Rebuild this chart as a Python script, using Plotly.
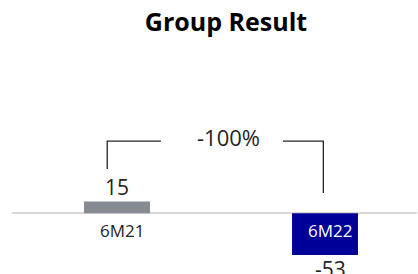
import plotly.graph_objects as go

# ---- data ----
categories = ["6M21", "6M22"]
values = [15, -53]
value_labels = ["15", "-53"]
change_label = "-100%"
title_text = "Group Result"

# ---- style ----
bar_colors = ["#868B91", "#000099"]
cat_label_colors = ["#252423", "#FFFFFF"]
FONT = "Segoe UI, Open Sans, sans-serif"
W, H = 418, 274
ML, MR = 12, 1
px_per_unit = 0.785
zero_px = 213.3  # from top

y_max = zero_px / px_per_unit
y_min = -(H - zero_px) / px_per_unit

x_idx = list(range(len(categories)))
x_px_per_unit = 208.0
first_center = 117.0
x_min = -(first_center - ML) / x_px_per_unit
x_max = (W - MR - first_center) / x_px_per_unit

fig = go.Figure()
fig.add_trace(go.Bar(
    x=x_idx, y=values, width=0.317,
    marker=dict(color=bar_colors, line=dict(width=0)),
    hoverinfo="skip",
))

annotations = []
for i, (c, v, lab) in enumerate(zip(categories, values, value_labels)):
    annotations.append(dict(
        x=i, y=0, xref="x", yref="y", text=c, showarrow=False,
        xshift=5, yshift=-17, yanchor="middle",
        font=dict(family=FONT, size=17, color=cat_label_colors[i]),
    ))
    if v >= 0:
        annotations.append(dict(
            x=i, y=v, text=lab, showarrow=False, yanchor="bottom", yshift=-1,
            font=dict(family=FONT, size=21, color="#252423"),
        ))
    else:
        annotations.append(dict(
            x=i, y=v, text=lab, showarrow=False, yanchor="top", yshift=2, xshift=5,
            font=dict(family=FONT, size=21, color="#252423"),
        ))

# bracket (derived from data)
top_y = 92
left_x = x_idx[0] - 0.047
right_x = x_idx[1] - 0.008
left_bot = max(values[0], 0) + 41.4
right_bot = max(values[1], 0) + 26
gap_l = left_x + (161 - 107.3) / x_px_per_unit
gap_r = right_x - (323.3 - 283) / x_px_per_unit
line = dict(color="#252423", width=1.3)
shapes = [
    dict(type="path", xref="x", yref="y",
         path=f"M {left_x},{left_bot} L {left_x},{top_y} L {gap_l},{top_y}", line=line),
    dict(type="path", xref="x", yref="y",
         path=f"M {gap_r},{top_y} L {right_x},{top_y} L {right_x},{right_bot}", line=line),
]
annotations.append(dict(
    x=(x_idx[0] + x_idx[1]) / 2 + 0.034, y=top_y, text=change_label, showarrow=False,
    yanchor="middle", yshift=4,
    font=dict(family=FONT, size=22, color="#252423"),
))

fig.update_layout(
    width=W, height=H,
    margin=dict(l=ML, r=MR, t=0, b=0),
    paper_bgcolor="white", plot_bgcolor="white",
    showlegend=False,
    title=dict(text="<b>" + title_text + "</b>", x=226 / W, xref="container", xanchor="center",
               y=1 - 22 / H, yref="container", yanchor="middle",
               font=dict(family=FONT, size=25, color="#000000")),
    xaxis=dict(range=[x_min, x_max], visible=False, fixedrange=True),
    yaxis=dict(range=[y_min, y_max], showgrid=False, showticklabels=False,
               zeroline=True, zerolinecolor="#D9D9D9", zerolinewidth=2, fixedrange=True),
    annotations=annotations,
    shapes=shapes,
)
fig.write_html("out.html", config={"displayModeBar": False},
               post_script="document.body.style.margin='0';document.body.style.overflow='hidden';")
